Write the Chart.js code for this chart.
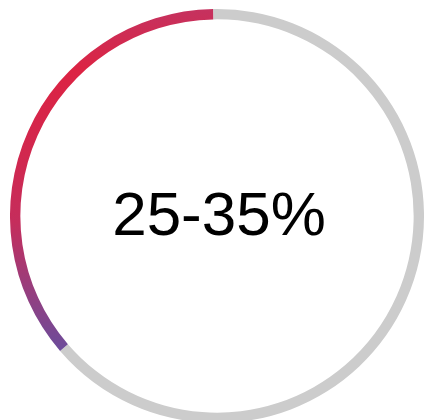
<!DOCTYPE html>
<html>
<head>
<meta charset="utf-8">
<script src="https://cdn.jsdelivr.net/npm/chart.js@4"></script>
<style>
    html, body { margin: 0; padding: 0; background: #fff; overflow: hidden; width: 425px; height: 420px; }
    #wrap { position: absolute; left: 10px; top: 9px; width: 414px; height: 414px; }
</style>
</head>
<body>
<div id="wrap"><canvas id="ringChart" width="414" height="414"></canvas></div>
<script>
const labels = ['Rest', 'Range'];
const values = [64, 36];
const centerLabel = '25-35%';
const restColor = '#cccccc';

// colours down the coloured arc, from the top of the ring to its lower-left end
const arcStops = [
    [0.00, '#c5325f'],
    [0.18, '#dc2343'],
    [0.45, '#d02850'],
    [0.62, '#c52d5c'],
    [0.82, '#963e7e'],
    [1.00, '#6a4c9c']
];

function sliceColor(context) {
    if (context.dataIndex === 0) return restColor;
    const { ctx, chartArea } = context.chart;
    if (!chartArea) return '#dc2343';
    // vertical span of the coloured arc: top of ring to the arc's end point
    const g = ctx.createLinearGradient(0, chartArea.top, 0, chartArea.top + chartArea.height * 0.83);
    arcStops.forEach(([p, c]) => g.addColorStop(p, c));
    return g;
}

const centerText = {
    id: 'centerText',
    afterDraw(chart) {
        const { ctx, chartArea } = chart;
        const cx = (chartArea.left + chartArea.right) / 2;
        const cy = (chartArea.top + chartArea.bottom) / 2;
        ctx.save();
        ctx.font = '62px "Liberation Sans", Arial, sans-serif';
        ctx.fillStyle = '#000';
        ctx.textAlign = 'center';
        ctx.textBaseline = 'middle';
        ctx.fillText(centerLabel, cx + 2, cy + 2);
        ctx.restore();
    }
};

new Chart(document.getElementById('ringChart'), {
    type: 'doughnut',
    data: {
        labels: labels,
        datasets: [{
            data: values,
            backgroundColor: sliceColor,
            borderWidth: 0,
            hoverOffset: 0
        }]
    },
    options: {
        responsive: false,
        animation: false,
        rotation: -1.1,
        cutout: '95%',
        layout: { padding: 0 },
        events: [],
        plugins: {
            legend: { display: false },
            tooltip: { enabled: false }
        }
    },
    plugins: [centerText]
});
</script>
</body>
</html>
